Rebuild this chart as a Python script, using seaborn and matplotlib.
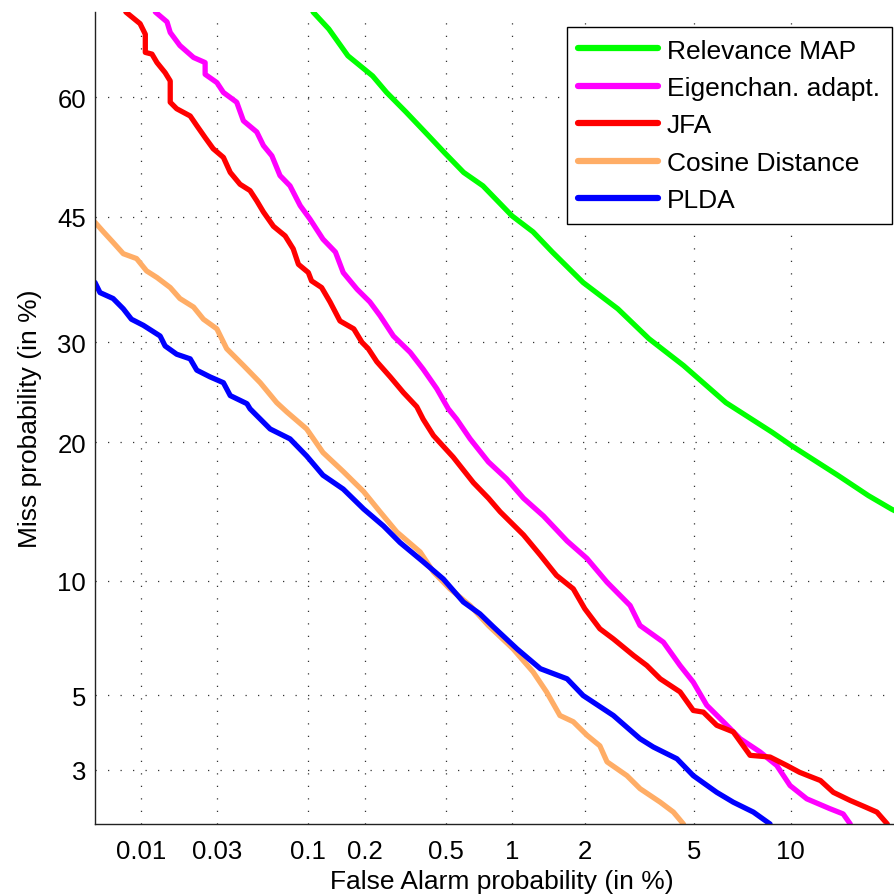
from statistics import NormalDist

import numpy as np
import pandas as pd
import seaborn as sns
import matplotlib.pyplot as plt
from matplotlib.ticker import NullLocator

# DET curves, both axes in %
fa_relevance_map = [0.106, 0.129, 0.163, 0.219, 0.258, 0.322, 0.416, 0.494, 0.607, 0.743,
                    1.00, 1.23, 1.48, 1.97, 2.68, 3.49, 4.61, 6.37, 8.83, 10.05,
                    13.45, 16.1, 18.3, 20.0]
miss_relevance_map = [70.0, 68.1, 65.0, 62.6, 60.6, 58.2, 55.2, 53.1, 50.6, 48.9,
                      45.1, 43.1, 40.6, 36.9, 33.8, 30.4, 27.5, 23.7, 20.9, 19.7,
                      17.2, 15.6, 14.6, 14.0]

fa_eigenchan = [0.0124, 0.0147, 0.0154, 0.0177, 0.0215, 0.0253, 0.0253, 0.0298, 0.0326, 0.0391,
                0.0428, 0.0512, 0.0559, 0.0625, 0.0695, 0.0791, 0.0901, 0.102, 0.120, 0.140,
                0.154, 0.182, 0.212, 0.239, 0.279, 0.338, 0.391, 0.454, 0.515, 0.564,
                0.650, 0.786, 0.947, 1.12, 1.36, 1.70, 2.04, 2.44, 2.98, 3.24,
                3.93, 4.49, 4.98, 5.52, 6.25, 7.06, 8.13, 9.11, 9.96, 11.1,
                12.8, 13.9, 14.5]
miss_eigenchan = [70.0, 68.9, 67.7, 66.2, 64.8, 64.2, 62.8, 61.8, 60.6, 59.4,
                  57.1, 55.7, 54.0, 52.7, 50.2, 48.9, 46.4, 44.7, 42.2, 40.6,
                  38.1, 36.1, 34.6, 33.0, 30.7, 28.9, 27.1, 25.1, 23.1, 22.1,
                  20.3, 18.3, 16.9, 15.4, 14.1, 12.4, 11.3, 9.92, 8.69, 7.73,
                  6.99, 6.05, 5.44, 4.68, 4.19, 3.73, 3.40, 3.09, 2.67, 2.42,
                  2.25, 2.16, 2.00]

fa_jfa = [0.0080, 0.0099, 0.0107, 0.0107, 0.0118, 0.0127, 0.0143, 0.0154, 0.0154, 0.0169,
          0.0205, 0.0225, 0.0253, 0.0283, 0.0326, 0.0358, 0.0409, 0.0468, 0.0512, 0.0559,
          0.0638, 0.0743, 0.0824, 0.0881, 0.0999, 0.104, 0.118, 0.131, 0.148, 0.175,
          0.193, 0.208, 0.230, 0.269, 0.313, 0.364, 0.391, 0.438, 0.543, 0.673,
          0.787, 0.887, 1.12, 1.32, 1.54, 1.80, 2.00, 2.29, 2.58, 3.07,
          3.43, 3.83, 4.49, 4.98, 5.38, 5.95, 6.72, 7.58, 8.71, 9.74,
          10.6, 12.1, 13.1, 14.5, 15.9, 16.9, 17.9]
miss_jfa = [70.0, 68.7, 67.5, 65.4, 65.2, 64.2, 63.0, 62.0, 59.4, 58.6,
            57.7, 56.5, 55.0, 53.6, 52.5, 50.6, 49.1, 48.3, 47.0, 45.6,
            43.8, 42.6, 41.0, 39.1, 38.1, 37.1, 36.3, 34.6, 32.4, 31.5,
            30.0, 29.3, 27.9, 26.3, 24.7, 23.3, 22.1, 20.6, 18.7, 16.6,
            15.4, 14.4, 12.8, 11.5, 10.3, 9.56, 8.53, 7.58, 7.13, 6.44,
            6.05, 5.56, 5.11, 4.52, 4.47, 4.09, 3.91, 3.32, 3.28, 3.09,
            2.94, 2.77, 2.54, 2.39, 2.27, 2.19, 2.00]

fa_cosine = [0.0050, 0.0057, 0.0066, 0.0077, 0.0094, 0.0109, 0.0127, 0.0154, 0.0177, 0.0215,
             0.0247, 0.0298, 0.0341, 0.0428, 0.0536, 0.0666, 0.0759, 0.0978, 0.120, 0.154,
             0.197, 0.239, 0.290, 0.378, 0.438, 0.524, 0.650, 0.786, 1.01, 1.23,
             1.40, 1.59, 1.80, 2.04, 2.29, 2.44, 2.90, 3.24, 3.83, 4.26,
             4.61]
miss_cosine = [44.3, 43.1, 41.8, 40.4, 39.8, 38.3, 37.5, 36.3, 35.0, 34.0,
               32.6, 31.5, 29.3, 27.5, 25.7, 23.7, 22.8, 21.2, 19.1, 17.5,
               15.9, 14.4, 13.0, 11.7, 10.5, 9.56, 8.69, 7.73, 6.71, 5.81,
               5.11, 4.37, 4.19, 3.82, 3.55, 3.17, 2.87, 2.61, 2.36, 2.19,
               2.00]

fa_plda = [0.0050, 0.0054, 0.0066, 0.0077, 0.0087, 0.0104, 0.0133, 0.0143, 0.0169, 0.0205,
           0.0225, 0.0271, 0.0326, 0.0358, 0.0449, 0.0468, 0.0611, 0.0791, 0.0978, 0.120,
           0.154, 0.197, 0.249, 0.301, 0.391, 0.488, 0.605, 0.720, 0.827, 1.05,
           1.32, 1.70, 1.97, 2.58, 3.24, 3.62, 4.38, 4.98, 5.95, 6.72,
           7.76, 8.71]
miss_plda = [36.9, 35.7, 35.0, 33.8, 32.6, 31.9, 30.7, 29.6, 28.7, 28.2,
             27.0, 26.3, 25.7, 24.4, 23.6, 23.1, 21.2, 20.3, 18.8, 17.2,
             16.1, 14.6, 13.4, 12.3, 11.1, 10.1, 8.87, 8.28, 7.67, 6.71,
             5.93, 5.56, 4.99, 4.37, 3.73, 3.52, 3.24, 2.87, 2.54, 2.36,
             2.19, 2.00]

systems = ["Relevance MAP", "Eigenchan. adapt.", "JFA", "Cosine Distance", "PLDA"]
colors = ["#00ff00", "#ff00ff", "#ff0000", "#ffad66", "#0000ff"]

xticks = [0.01, 0.03, 0.1, 0.2, 0.5, 1, 2, 5, 10]
xtick_labels = ["0.01", "0.03", "0.1", "0.2", "0.5", "1", "2", "5", "10"]
yticks = [3, 5, 10, 20, 30, 45, 60]
ytick_labels = ["3", "5", "10", "20", "30", "45", "60"]

curves = [(fa_relevance_map, miss_relevance_map), (fa_eigenchan, miss_eigenchan),
          (fa_jfa, miss_jfa), (fa_cosine, miss_cosine), (fa_plda, miss_plda)]
df = pd.concat([pd.DataFrame({"fa": fa, "miss": miss, "system": name})
                for name, (fa, miss) in zip(systems, curves)], ignore_index=True)

# normal deviate scale (probit) for % values
_nd = NormalDist()
_ppf = np.vectorize(_nd.inv_cdf, otypes=[float])
_cdf = np.vectorize(_nd.cdf, otypes=[float])


def to_probit(p):
    p = np.asarray(p, dtype=float) / 100.0
    p = np.where(np.isfinite(p), p, 0.5)
    return _ppf(np.clip(p, 1e-10, 1 - 1e-10))


def from_probit(z):
    z = np.asarray(z, dtype=float)
    z = np.where(np.isfinite(z), z, 0.0)
    return _cdf(z) * 100.0


sns.set_style("white")
plt.rcParams["font.family"] = ["Liberation Sans", "DejaVu Sans"]
plt.rcParams["text.color"] = "black"
plt.rcParams["axes.labelcolor"] = "black"

fig = plt.figure(figsize=(8.95, 8.95), dpi=100)
ax = fig.add_axes([95 / 895, 70 / 895, 813 / 895, 812 / 895])

sns.lineplot(data=df, x="fa", y="miss", hue="system", hue_order=systems,
             palette=colors, sort=False, estimator=None, linewidth=3.8,
             ax=ax, legend=True)
for line in ax.lines:
    line.set_solid_joinstyle("round")

ax.set_xscale("function", functions=(to_probit, from_probit))
ax.set_yscale("function", functions=(to_probit, from_probit))
ax.set_xlim(0.005, 20)
ax.set_ylim(2, 70)
ax.set_xticks(xticks)
ax.set_xticklabels(xtick_labels)
ax.set_yticks(yticks)
ax.set_yticklabels(ytick_labels)
ax.xaxis.set_minor_locator(NullLocator())
ax.yaxis.set_minor_locator(NullLocator())

ax.grid(True, color="#333333", linestyle=(0, (1, 9)), linewidth=0.9)
ax.set_axisbelow(True)
for side in ["top", "right"]:
    ax.spines[side].set_visible(False)
for side in ["left", "bottom"]:
    ax.spines[side].set_color("#222222")
    ax.spines[side].set_linewidth(1.0)

ax.tick_params(axis="both", direction="in", length=6, width=0.8,
               color="#222222", labelsize=18.5, labelcolor="black")
ax.tick_params(axis="x", pad=11)
ax.tick_params(axis="y", pad=6.5)

ax.set_xlabel("False Alarm probability (in %)", fontsize=19, labelpad=4,
              color="black")
ax.set_ylabel("Miss probability (in %)", fontsize=19, labelpad=11,
              color="black")

handles, labels = ax.get_legend_handles_labels()
for h in handles:
    h.set_linewidth(4.5)
leg = ax.legend(handles, labels, loc="upper right",
                bbox_to_anchor=(891.7 / 895, (895 - 27.7) / 895),
                bbox_transform=fig.transFigure, borderaxespad=0,
                fontsize=19, handlelength=3.0, handletextpad=0.35,
                labelspacing=0.51, borderpad=0.45, frameon=True,
                fancybox=False, framealpha=1, edgecolor="black",
                labelcolor="black")
leg.get_frame().set_linewidth(1.0)

fig.savefig("out.png", dpi=100)
